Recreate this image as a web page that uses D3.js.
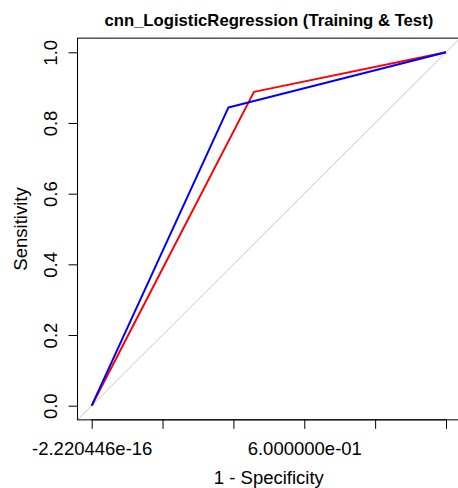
<!DOCTYPE html>
<html>
<head>
<meta charset="utf-8">
<script src="https://cdn.jsdelivr.net/npm/d3@7"></script>
<style>
body { margin: 0; background: #fff; }
text { font-family: "Liberation Sans", Arial, sans-serif; fill: #000; }
.title { font-size: 16.7px; font-weight: bold; }
.tick-label { font-size: 18.5px; }
.axis-title { font-size: 18.5px; }
</style>
</head>
<body>
<svg width="458" height="488"></svg>
<script>

// ROC curves: 1 - specificity vs sensitivity
var redFpr = [0, 0.458, 1],
    redTpr = [0, 0.888, 1];
var blueFpr = [0, 0.386, 1],
    blueTpr = [0, 0.844, 1];

var xTicks = [0, 0.2, 0.4, 0.6, 0.8, 1.0],
    xTickLabels = ["-2.220446e-16", "", "", "6.000000e-01", "", ""],
    yTicks = [0, 0.2, 0.4, 0.6, 0.8, 1.0];

var svg = d3.select("svg");

// plot region (R style with 4% padding)
var x = d3.scaleLinear().domain([0, 1]).range([91.7, 446]);
var y = d3.scaleLinear().domain([0, 1]).range([405.7, 52.3]);

var pad = 0.04;
var boxL = x(-pad), boxR = x(1 + pad), boxT = y(1 + pad), boxB = y(-pad);

svg.append("defs").append("clipPath").attr("id", "plotclip")
  .append("rect")
    .attr("x", boxL).attr("y", boxT)
    .attr("width", boxR - boxL).attr("height", boxB - boxT);

var plot = svg.append("g").attr("clip-path", "url(#plotclip)");

// identity line
plot.append("line")
    .attr("x1", x(-pad)).attr("y1", y(-pad))
    .attr("x2", x(1 + pad)).attr("y2", y(1 + pad))
    .attr("stroke", "#c4c4c4")
    .attr("stroke-width", 1);

function drawRoc(fpr, tpr, col) {
  var pts = fpr.map(function(d, i) { return [d, tpr[i]]; });
  var line = d3.line()
      .x(function(d) { return x(d[0]); })
      .y(function(d) { return y(d[1]); });
  plot.append("path")
      .datum(pts)
      .attr("fill", "none")
      .attr("stroke", col)
      .attr("stroke-width", 2)
      .attr("stroke-linejoin", "round")
      .attr("d", line);
}

drawRoc(redFpr, redTpr, "#ff0000");
drawRoc(blueFpr, blueTpr, "#0000ff");

// box
svg.append("rect")
    .attr("x", boxL).attr("y", boxT)
    .attr("width", boxR - boxL).attr("height", boxB - boxT)
    .attr("fill", "none")
    .attr("stroke", "#000")
    .attr("stroke-width", 1);

// x axis
var xAxis = svg.append("g")
    .attr("transform", "translate(0," + boxB + ")")
    .call(d3.axisBottom(x)
      .tickValues(xTicks)
      .tickSize(9)
      .tickFormat(function(d, i) { return xTickLabels[i]; }));
xAxis.select(".domain")
    .attr("d", "M" + x(0) + ",0H" + x(1));
xAxis.selectAll("text")
    .attr("class", "tick-label")
    .attr("font-family", null)
    .attr("font-size", null)
    .attr("y", 455 - boxB)
    .attr("dy", null);

// y axis
var yAxis = svg.append("g")
    .attr("transform", "translate(" + boxL + ",0)")
    .call(d3.axisLeft(y)
      .tickValues(yTicks)
      .tickSize(9)
      .tickFormat(d3.format(".1f")));
yAxis.select(".domain")
    .attr("d", "M0," + y(0) + "V" + y(1));
yAxis.selectAll("text")
    .attr("class", "tick-label")
    .attr("font-family", null)
    .attr("font-size", null)
    .attr("x", null).attr("dy", null)
    .attr("text-anchor", "middle")
    .attr("transform", "translate(" + (56.5 - boxL) + ",0) rotate(-90)");

// titles
svg.append("text")
    .attr("class", "title")
    .attr("x", (boxL + boxR) / 2)
    .attr("y", 26)
    .attr("text-anchor", "middle")
    .text("cnn_LogisticRegression (Training & Test)");

svg.append("text")
    .attr("class", "axis-title")
    .attr("x", (boxL + boxR) / 2)
    .attr("y", 484)
    .attr("text-anchor", "middle")
    .text("1 - Specificity");

svg.append("text")
    .attr("class", "axis-title")
    .attr("transform", "translate(27," + ((boxT + boxB) / 2) + ") rotate(-90)")
    .attr("text-anchor", "middle")
    .text("Sensitivity");

</script>
</body>
</html>
